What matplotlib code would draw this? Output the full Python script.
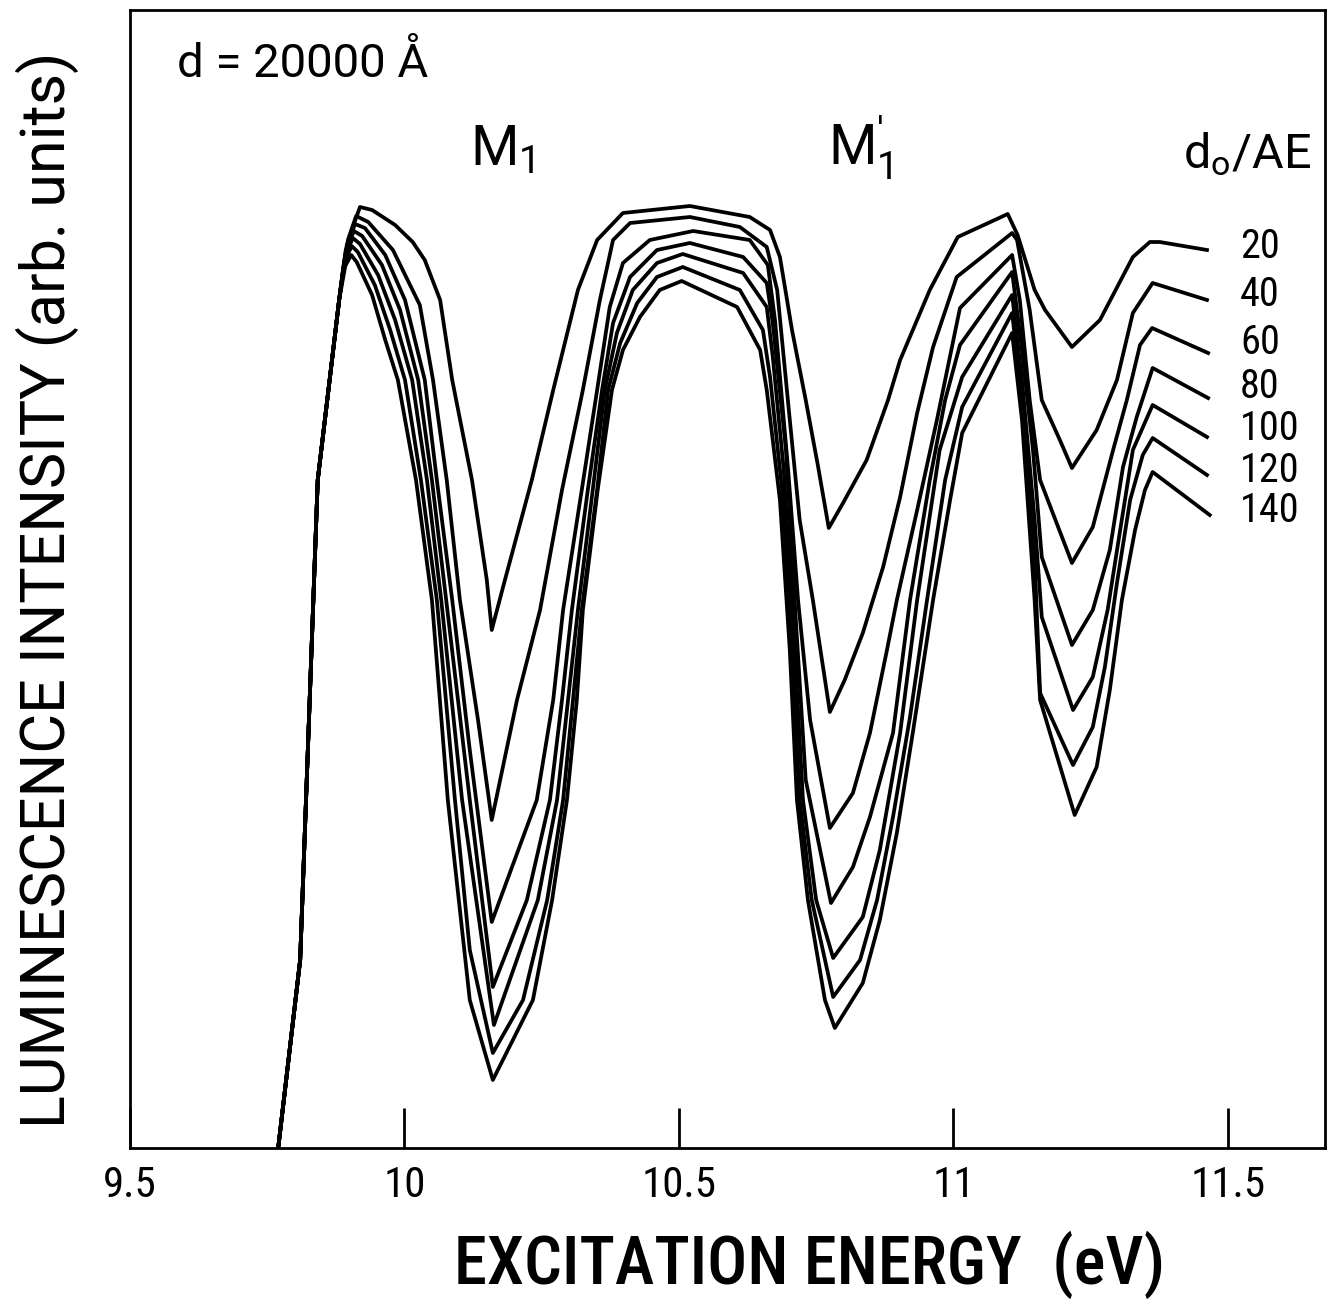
import matplotlib
matplotlib.use("Agg")
import matplotlib.pyplot as plt
from matplotlib import font_manager


def have(name):
    try:
        font_manager.findfont(name, fallback_to_default=False)
        return True
    except ValueError:
        return False


narrow = "Roboto Condensed" if have("Roboto Condensed") else "DejaVu Sans"
wide = "Roboto" if have("Roboto") else "DejaVu Sans"
plt.rcParams["font.family"] = [narrow, "DejaVu Sans"]
plt.rcParams["mathtext.fontset"] = "custom"
plt.rcParams["mathtext.rm"] = wide
plt.rcParams["mathtext.it"] = wide

# shared rising edge (eV, arb. units)
rise_e = [9.770, 9.810, 9.842, 9.881]
rise_i = [0.0, 18.8, 66.8, 84.8]

# d0/AE = 20
e20 = [9.904, 9.919, 9.941, 9.983, 10.015, 10.037, 10.065, 10.087, 10.123, 10.150, 10.159,
       10.183, 10.232, 10.271, 10.316, 10.351, 10.398, 10.520, 10.629, 10.666, 10.684, 10.706,
       10.731, 10.753, 10.773, 10.799, 10.842, 10.881, 10.903, 10.957, 11.008, 11.099, 11.117,
       11.148, 11.167, 11.216, 11.267, 11.327, 11.358, 11.376, 11.462]
i20 = [91.8, 94.1, 93.8, 92.3, 90.6, 88.8, 84.8, 76.8, 66.8, 56.8, 51.8,
       56.8, 66.8, 75.8, 85.8, 90.8, 93.5, 94.2, 93.1, 91.8, 89.1, 81.8,
       74.8, 68.3, 62.0, 64.5, 68.8, 74.8, 78.8, 85.8, 91.1, 93.4, 91.3,
       85.8, 83.8, 80.1, 82.8, 89.1, 90.6, 90.6, 89.8]

# d0/AE = 40
e40 = [9.897, 9.912, 9.934, 9.979, 10.028, 10.052, 10.077, 10.101, 10.134, 10.159,
       10.205, 10.247, 10.287, 10.325, 10.356, 10.380, 10.411, 10.520, 10.611, 10.660, 10.679,
       10.702, 10.720, 10.744, 10.775, 10.802, 10.835, 10.872, 10.903, 10.934, 10.963, 11.006,
       11.107, 11.116, 11.139, 11.161, 11.194, 11.216, 11.261, 11.298, 11.327, 11.363, 11.462]
i40 = [90.8, 93.2, 92.6, 89.8, 84.3, 76.8, 66.8, 54.8, 42.8, 32.8,
       44.8, 53.8, 65.8, 75.8, 84.8, 90.8, 92.5, 93.1, 92.1, 90.1, 85.8,
       72.8, 62.8, 54.8, 43.6, 46.8, 51.5, 58.1, 65.1, 73.5, 80.1, 87.1,
       91.5, 90.8, 83.8, 74.8, 70.8, 68.0, 71.8, 76.8, 83.5, 86.5, 84.8]

# d0/AE = 60
e60 = [9.895, 9.910, 9.928, 9.965, 10.001, 10.037, 10.059, 10.087, 10.119, 10.159,
       10.241, 10.271, 10.289, 10.323, 10.351, 10.374, 10.398, 10.447, 10.526, 10.629, 10.662,
       10.675, 10.699, 10.717, 10.739, 10.775, 10.817, 10.848, 10.879, 10.897, 10.934, 10.970,
       11.012, 11.107, 11.121, 11.139, 11.158, 11.216, 11.254, 11.291, 11.316, 11.340, 11.362,
       11.464]
i60 = [90.3, 92.4, 92.0, 89.3, 84.8, 76.8, 66.8, 54.8, 39.8, 22.6,
       34.8, 44.8, 53.8, 65.8, 75.8, 84.1, 88.5, 90.8, 91.7, 90.8, 88.3,
       82.8, 67.8, 54.8, 42.8, 32.0, 35.5, 41.5, 49.8, 54.8, 63.8, 72.8,
       84.0, 89.3, 84.8, 74.8, 66.8, 58.5, 62.1, 69.8, 74.8, 80.3, 82.0,
       79.5]

# d0/AE = 80
e80 = [9.893, 9.908, 9.923, 9.959, 9.992, 10.025, 10.050, 10.076, 10.119, 10.161,
       10.223, 10.265, 10.287, 10.305, 10.334, 10.360, 10.380, 10.411, 10.460, 10.520, 10.617,
       10.660, 10.671, 10.695, 10.713, 10.731, 10.777, 10.817, 10.848, 10.890, 10.921, 10.957,
       10.985, 11.012, 11.107, 11.125, 11.145, 11.161, 11.216, 11.254, 11.285, 11.309, 11.334,
       11.363, 11.464]
i80 = [89.8, 91.7, 91.2, 88.3, 83.8, 76.8, 66.8, 54.8, 34.8, 16.1,
       24.8, 34.8, 44.8, 53.8, 65.8, 75.8, 82.5, 87.1, 89.8, 90.5, 89.1,
       86.5, 82.5, 69.8, 52.8, 36.8, 24.5, 28.1, 33.1, 41.5, 54.8, 66.8,
       74.8, 80.3, 87.6, 79.8, 69.8, 59.1, 50.3, 53.8, 59.8, 68.1, 73.1,
       78.0, 75.0]

# d0/AE = 100
e100 = [9.892, 9.906, 9.919, 9.952, 9.983, 10.014, 10.041, 10.067, 10.105, 10.163,
        10.243, 10.278, 10.298, 10.316, 10.343, 10.365, 10.387, 10.416, 10.460, 10.507, 10.617,
        10.660, 10.671, 10.691, 10.710, 10.726, 10.750, 10.781, 10.835, 10.866, 10.903, 10.934,
        10.975, 11.016, 11.107, 11.125, 11.148, 11.161, 11.218, 11.254, 11.281, 11.303, 11.327,
        11.363, 11.462]
i100 = [89.3, 91.0, 90.4, 87.3, 82.8, 76.8, 66.8, 54.8, 34.8, 12.3,
        24.8, 34.8, 44.8, 53.8, 65.8, 75.8, 81.5, 85.8, 88.5, 89.4, 87.5,
        84.1, 79.1, 67.8, 50.8, 34.8, 24.8, 19.0, 23.1, 29.8, 41.5, 54.8,
        69.8, 77.1, 85.3, 76.8, 62.8, 53.1, 43.8, 47.1, 53.8, 61.5, 69.8,
        74.3, 71.1]

# d0/AE = 120
e120 = [9.890, 9.904, 9.915, 9.946, 9.974, 10.001, 10.030, 10.059, 10.092, 10.119, 10.161,
        10.216, 10.260, 10.289, 10.307, 10.323, 10.351, 10.371, 10.393, 10.424, 10.460, 10.507,
        10.611, 10.653, 10.666, 10.688, 10.706, 10.720, 10.742, 10.781, 10.830, 10.861, 10.890,
        10.921, 10.952, 10.985, 11.016, 11.107, 11.125, 11.148, 11.158, 11.218, 11.254, 11.276,
        11.298, 11.322, 11.345, 11.363, 11.462]
i120 = [88.6, 90.2, 89.6, 86.3, 81.8, 76.8, 66.8, 54.8, 34.8, 19.8, 9.5,
        14.8, 24.8, 34.8, 44.8, 53.8, 65.8, 75.8, 80.5, 84.5, 87.1, 88.1,
        85.8, 81.8, 77.1, 65.8, 49.8, 34.8, 24.8, 15.1, 18.8, 24.8, 33.1,
        43.1, 54.8, 66.8, 74.1, 83.5, 74.8, 58.8, 45.5, 38.3, 42.1, 48.1,
        56.5, 64.8, 69.3, 71.0, 67.3]

# d0/AE = 140
e140 = [9.888, 9.903, 9.913, 9.941, 9.965, 9.988, 10.021, 10.050, 10.079, 10.119, 10.161,
        10.234, 10.269, 10.296, 10.314, 10.325, 10.352, 10.378, 10.398, 10.429, 10.465, 10.505,
        10.606, 10.648, 10.660, 10.684, 10.702, 10.715, 10.735, 10.766, 10.784, 10.835, 10.866,
        10.897, 10.926, 10.963, 10.994, 11.016, 11.107, 11.125, 11.148, 11.158, 11.221, 11.261,
        11.285, 11.307, 11.331, 11.349, 11.363, 11.467]
i140 = [87.8, 89.3, 88.6, 85.3, 80.8, 76.8, 66.8, 54.8, 34.8, 14.8, 6.8,
        14.8, 24.8, 34.8, 44.8, 53.8, 65.8, 75.8, 79.8, 83.1, 85.8, 86.7,
        84.1, 79.8, 75.8, 64.8, 49.8, 34.8, 24.8, 14.8, 12.0, 16.5, 22.8,
        31.5, 41.5, 54.8, 64.8, 71.5, 81.5, 72.8, 54.8, 44.8, 33.3, 38.1,
        45.8, 54.8, 61.8, 65.8, 67.6, 63.3]

ratios = ["20", "40", "60", "80", "100", "120", "140"]
label_y = [90.1, 85.3, 80.6, 76.1, 72.0, 67.8, 63.8]
curves = [(e20, i20), (e40, i40), (e60, i60), (e80, i80),
          (e100, i100), (e120, i120), (e140, i140)]

fig = plt.figure(figsize=(13.32, 12.99), dpi=100)
ax = fig.add_axes([130 / 1332, 1 - 1148 / 1299, (1325 - 130) / 1332, (1148 - 10) / 1299])

for e, i in curves:
    ax.plot(rise_e + e, rise_i + i, color="black", lw=2.7, solid_joinstyle="round")

for r, y in zip(ratios, label_y):
    ax.text(11.522, y, r, fontsize=29, va="center", ha="left")

ax.text(11.418, 98.0, r"d$_\mathregular{o}$/AE", fontsize=35, ha="left", va="baseline",
        family=[wide, "DejaVu Sans"])
ax.text(9.586, 107.1, "d = 20000 Å", fontsize=34, ha="left", va="baseline",
        family=[wide, "DejaVu Sans"])
ax.text(10.119, 98.3, r"M$_\mathregular{1}$", fontsize=40, ha="left", va="baseline",
        family=[wide, "DejaVu Sans"])
ax.text(10.771, 98.3, r"M$_\mathregular{1}^{\prime}$", fontsize=40, ha="left", va="baseline",
        family=[wide, "DejaVu Sans"])

ax.set_xlim(9.5, 11.677)
ax.set_ylim(0, 113.8)
ax.set_xticks([9.5, 10, 10.5, 11, 11.5])
ax.set_xticklabels(["9.5", "10", "10.5", "11", "11.5"])
ax.set_yticks([])
ax.tick_params(axis="x", direction="in", length=29, width=2, labelsize=31, pad=12)
for s in ax.spines.values():
    s.set_linewidth(2)

fig.text(47 / 1332, 1 - 590 / 1299, "LUMINESCENCE INTENSITY (arb. units)",
         rotation=90, ha="center", va="center", fontsize=44, family=[wide, "DejaVu Sans"])
fig.text(810 / 1332, 1 - 1265 / 1299, "EXCITATION ENERGY  (eV)",
         ha="center", va="center", fontsize=48, fontweight="medium")

fig.savefig("out.png", dpi=100)
